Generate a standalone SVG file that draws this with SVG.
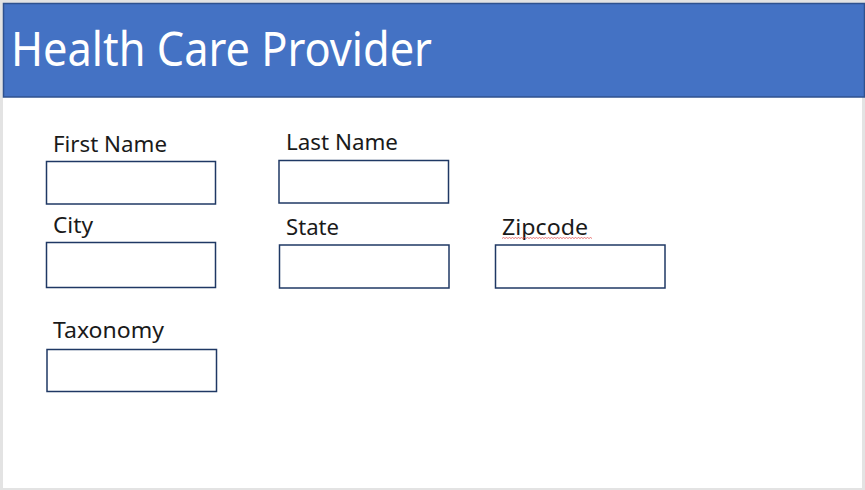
<svg xmlns="http://www.w3.org/2000/svg" width="865" height="490" viewBox="0 0 865 490">
<style>
.field{fill:#fff;stroke:#1f3864;stroke-width:1.5}
.lbl{font-family:"Noto Sans","Open Sans","Liberation Sans",sans-serif;font-size:22px;fill:#1a1a1a}
.title{font-family:"Noto Sans","Open Sans","Liberation Sans",sans-serif;font-size:48px;fill:#fff}
</style>
<rect x="0" y="0" width="865" height="490" fill="#e3e3e3"/>
<rect x="3" y="3" width="859" height="485" fill="#fff"/>
<g id="header">
<rect x="3.5" y="3.5" width="861" height="93.5" fill="#4472c4" stroke="#2f528f" stroke-width="1.5"/>
<text class="title" x="11" y="66" textLength="421" lengthAdjust="spacingAndGlyphs">Health Care Provider</text>
</g>
<g id="first-name">
<text class="lbl" x="53" y="152" textLength="114" lengthAdjust="spacingAndGlyphs">First Name</text>
<rect class="field" x="46.5" y="161.5" width="169" height="42.5"/>
</g>
<g id="last-name">
<text class="lbl" x="286" y="150" textLength="112" lengthAdjust="spacingAndGlyphs">Last Name</text>
<rect class="field" x="279" y="160.5" width="169.5" height="42.5"/>
</g>
<g id="city">
<text class="lbl" x="53" y="233" textLength="40" lengthAdjust="spacingAndGlyphs">City</text>
<rect class="field" x="46.5" y="242.5" width="169" height="45"/>
</g>
<g id="state">
<text class="lbl" x="286" y="235" textLength="53" lengthAdjust="spacingAndGlyphs">State</text>
<rect class="field" x="279.5" y="245" width="169.5" height="43"/>
</g>
<g id="zipcode">
<text class="lbl" x="502" y="235" textLength="86" lengthAdjust="spacingAndGlyphs">Zipcode</text>
<path d="M502 238.5 l1.5 -1 l1.5 1 l1.5 -1 l1.5 1 l1.5 -1 l1.5 1 l1.5 -1 l1.5 1 l1.5 -1 l1.5 1 l1.5 -1 l1.5 1 l1.5 -1 l1.5 1 l1.5 -1 l1.5 1 l1.5 -1 l1.5 1 l1.5 -1 l1.5 1 l1.5 -1 l1.5 1 l1.5 -1 l1.5 1 l1.5 -1 l1.5 1 l1.5 -1 l1.5 1 l1.5 -1 l1.5 1 l1.5 -1 l1.5 1 l1.5 -1 l1.5 1 l1.5 -1 l1.5 1 l1.5 -1 l1.5 1 l1.5 -1 l1.5 1 l1.5 -1 l1.5 1 l1.5 -1 l1.5 1 l1.5 -1 l1.5 1 l1.5 -1 l1.5 1 l1.5 -1 l1.5 1 l1.5 -1 l1.5 1 l1.5 -1 l1.5 1 l1.5 -1 l1.5 1 l1.5 -1 l1.5 1 l1.5 -1 l1.5 1" fill="none" stroke="#e04040" stroke-width="0.7"/>
<rect class="field" x="495.5" y="245" width="169.5" height="43"/>
</g>
<g id="taxonomy">
<text class="lbl" x="53" y="338" textLength="111" lengthAdjust="spacingAndGlyphs">Taxonomy</text>
<rect class="field" x="47" y="349.5" width="169.5" height="42"/>
</g>
<g id="connectors"></g>
</svg>
